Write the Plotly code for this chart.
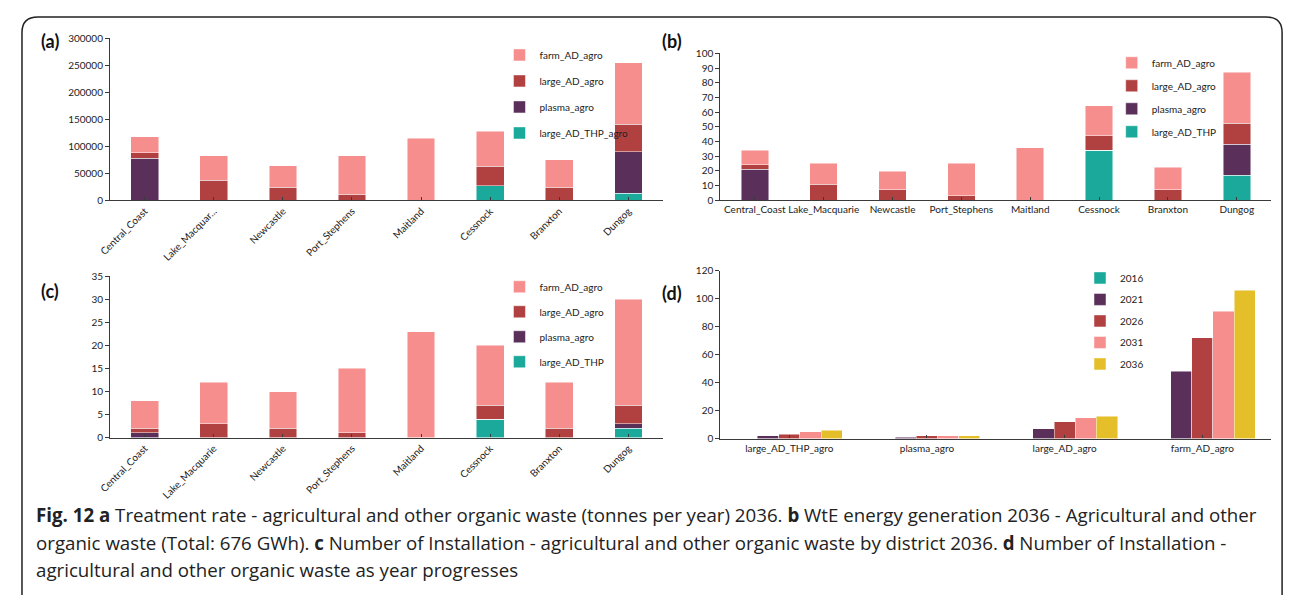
import plotly.graph_objects as go

# ---------------- data ----------------
districts = ["Central_Coast", "Lake_Macquarie", "Newcastle", "Port_Stephens",
             "Maitland", "Cessnock", "Branxton", "Dungog"]
districts_a_text = ["Central_Coast", "Lake_Macquar...", "Newcastle", "Port_Stephens",
                    "Maitland", "Cessnock", "Branxton", "Dungog"]

# (a) treatment rate, tonnes per year 2036
a_thp = [0, 0, 0, 0, 0, 27000, 0, 13000]
a_plasma = [78000, 0, 0, 0, 0, 0, 0, 77000]
a_large = [10000, 37000, 24000, 11000, 0, 36000, 24000, 51000]
a_farm = [30000, 46000, 40000, 72000, 115000, 65000, 51000, 114000]

# (b) WtE energy generation 2036 (GWh)
b_thp = [0, 0, 0, 0, 0, 34, 0, 17]
b_plasma = [21, 0, 0, 0, 0, 0, 0, 21]
b_large = [3, 11, 7, 3, 0, 10, 7, 14.5]
b_farm = [10, 14, 12.7, 22, 35.7, 20.3, 15.4, 34.7]

# (c) number of installations by district 2036
c_thp = [0, 0, 0, 0, 0, 4, 0, 2]
c_plasma = [1, 0, 0, 0, 0, 0, 0, 1]
c_large = [1, 3, 2, 1, 0, 3, 2, 4]
c_farm = [6, 9, 8, 14, 23, 13, 10, 23]

# (d) number of installations as year progresses
tech = ["large_AD_THP_agro", "plasma_agro", "large_AD_agro", "farm_AD_agro"]
years = ["2016", "2021", "2026", "2031", "2036"]
d_2016 = [0, 0, 0, 0]
d_2021 = [2, 1, 7, 48]
d_2026 = [3, 2, 12, 72]
d_2031 = [5, 2, 15, 91]
d_2036 = [6, 2, 16, 106]

# ---------------- styling ----------------
C_THP = "#1aa99a"
C_PLASMA = "#5a2f5a"
C_LARGE = "#b14141"
C_FARM = "#f78e8e"
C_YELLOW = "#e5bf2a"
TICKFONT = dict(family="Lato", size=10, color="#222")
AXCOL = "#3a3a3a"

# page body has an 8px margin: figure is placed at (8, 8) in the window
OFF = 8
W, H = 1292 - OFF, 601 - OFF


def px(x):
    return (x - OFF) / W


def py(y):
    return 1 - (y - OFF) / H


fig = go.Figure()
line = dict(color="rgba(255,255,255,0.6)", width=0.8)


def stacked(xa, ya, legend, names, series, prefix):
    cols = [C_THP, C_PLASMA, C_LARGE, C_FARM]
    n = len(names)
    for k, (name, vals, col) in enumerate(zip(names, series, cols)):
        fig.add_trace(go.Bar(
            x=districts, y=vals, name=name, marker=dict(color=col, line=line),
            width=0.4, xaxis=xa, yaxis=ya, legend=legend,
            legendgroup=prefix + name, legendrank=1000 + (n - k),
            showlegend=True))


stacked("x", "y", "legend",
        ["large_AD_THP_agro", "plasma_agro", "large_AD_agro", "farm_AD_agro"],
        [a_thp, a_plasma, a_large, a_farm], "a_")
stacked("x2", "y2", "legend2",
        ["large_AD_THP", "plasma_agro", "large_AD_agro", "farm_AD_agro"],
        [b_thp, b_plasma, b_large, b_farm], "b_")
stacked("x3", "y3", "legend3",
        ["large_AD_THP", "plasma_agro", "large_AD_agro", "farm_AD_agro"],
        [c_thp, c_plasma, c_large, c_farm], "c_")

# (d) grouped bars on numeric positions around each category
d_series = [d_2016, d_2021, d_2026, d_2031, d_2036]
d_cols = [C_THP, C_PLASMA, C_LARGE, C_FARM, C_YELLOW]
bw = 0.154
for j, (yr, vals, col) in enumerate(zip(years, d_series, d_cols)):
    fig.add_trace(go.Bar(
        x=[i + (j - 2) * bw for i in range(len(tech))], y=vals, name=yr,
        marker=dict(color=col, line=line), width=bw,
        xaxis="x4", yaxis="y4", legend="legend4", legendgroup="d_" + yr,
        legendrank=1000 + j))

# ---------------- axes ----------------
xl = [px(99), px(657)]
xr = [px(715), px(1271)]
common_x = dict(showline=True, linecolor=AXCOL, linewidth=1.3, ticks="inside",
                ticklen=3, tickcolor=AXCOL, tickfont=TICKFONT, showgrid=False,
                zeroline=False, fixedrange=True)
common_y = dict(showline=True, linecolor=AXCOL, linewidth=1.3, ticks="outside",
                ticklen=4, tickcolor=AXCOL, tickfont=TICKFONT, showgrid=False,
                zeroline=False, tickformat="d", fixedrange=True)

fig.update_layout(
    xaxis=dict(domain=xl, anchor="y", range=[-0.5, 7.5], tickangle=-45,
               tickmode="array", tickvals=districts, ticktext=districts_a_text,
               **common_x),
    yaxis=dict(domain=[py(197.5), py(32)], anchor="x", range=[0, 300000],
               dtick=50000, **common_y),
    xaxis2=dict(domain=xr, anchor="y2", range=[-0.5, 7.5], tickangle=0, **common_x),
    yaxis2=dict(domain=[py(197.3), py(47.3)], anchor="x2", range=[0, 100],
                dtick=10, **common_y),
    xaxis3=dict(domain=xl, anchor="y3", range=[-0.5, 7.5], tickangle=-45, **common_x),
    yaxis3=dict(domain=[py(440), py(275.3)], anchor="x3", range=[0, 35],
                dtick=5, **common_y),
    xaxis4=dict(domain=xr, anchor="y4", range=[-0.5, 3.5], tickmode="array",
                tickvals=list(range(len(tech))), ticktext=tech, tickangle=0,
                **common_x),
    yaxis4=dict(domain=[py(441), py(269.3)], anchor="x4", range=[0, 120],
                dtick=20, **common_y),
)

legfont = dict(family="Lato", size=10, color="#222")
legcommon = dict(font=legfont, bgcolor="rgba(0,0,0,0)", traceorder="grouped",
                 xanchor="left", yanchor="top", itemclick=False,
                 itemdoubleclick=False)
fig.update_layout(
    legend=dict(x=px(492), y=py(34), tracegroupgap=7, **legcommon),
    legend2=dict(x=px(1110), y=py(42), tracegroupgap=4, **legcommon),
    legend3=dict(x=px(492), y=py(271), tracegroupgap=6, **legcommon),
    legend4=dict(x=px(1078), y=py(262), tracegroupgap=2.5, **legcommon),
)

# panel labels
for txt, x, y in [("(a)", 38, 35), ("(b)", 666, 35), ("(c)", 38, 290), ("(d)", 666, 292)]:
    fig.add_annotation(text="<b>" + txt + "</b>", x=px(x), y=py(y), xref="paper",
                       yref="paper", showarrow=False, xanchor="center",
                       yanchor="middle", font=dict(family="Lato", size=18, color="#111"))

# caption
cap = [
    "<b>Fig. 12</b> <b>a</b> Treatment rate - agricultural and other organic waste (tonnes per year) 2036. "
    "<b>b</b> WtE energy generation 2036 - Agricultural and other",
    "organic waste (Total: 676 GWh). <b>c</b> Number of Installation - agricultural and other "
    "organic waste by district 2036. <b>d</b> Number of Installation -",
    "agricultural and other organic waste as year progresses",
]
for k, t in enumerate(cap):
    fig.add_annotation(text=t, x=px(22), y=py(519 + 28 * k), xref="paper", yref="paper",
                       showarrow=False, xanchor="left", yanchor="middle",
                       font=dict(family="Open Sans", size=18.7, color="#222"))

# frame with rounded top corners
r = 16
path = (f"M {px(10)},{py(601)} L {px(10)},{py(10 + r)} "
        f"Q {px(10)},{py(10)} {px(10 + r)},{py(10)} "
        f"L {px(1282 - r)},{py(10)} Q {px(1282)},{py(10)} {px(1282)},{py(10 + r)} "
        f"L {px(1282)},{py(601)}")
fig.add_shape(type="path", path=path, xref="paper", yref="paper",
              line=dict(color="#222", width=1.5))

fig.update_layout(
    width=W, height=H, margin=dict(l=0, r=0, t=0, b=0),
    paper_bgcolor="white", plot_bgcolor="white", barmode="stack",
    font=dict(family="Lato", color="#222"), showlegend=True,
)

fig.write_html("out.html")
